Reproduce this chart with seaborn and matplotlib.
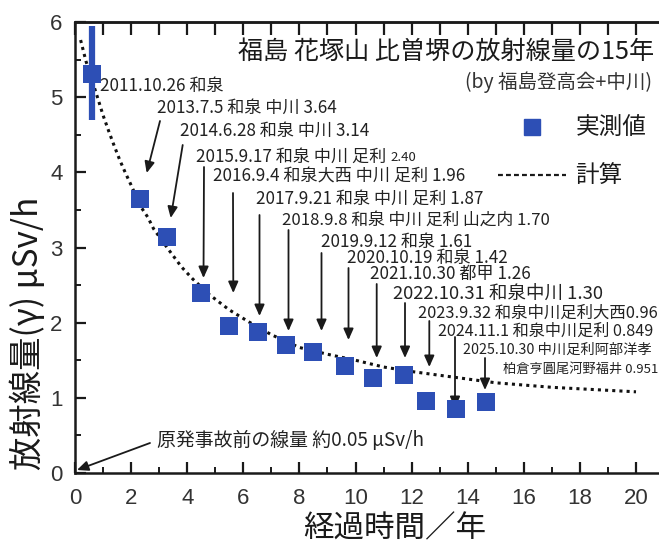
import numpy as np
import pandas as pd
import matplotlib
matplotlib.use("Agg")
import matplotlib.pyplot as plt
from matplotlib.lines import Line2D
import seaborn as sns

# 実測値 (経過年, μSv/h)
years = [0.60, 2.31, 3.27, 4.48, 5.48, 6.51, 7.51, 8.50, 9.61, 10.64, 11.72, 12.53, 13.60, 14.66]
dose = [5.31, 3.64, 3.14, 2.40, 1.96, 1.87, 1.70, 1.61, 1.42, 1.26, 1.30, 0.96, 0.849, 0.951]
err_lo = 4.70
err_hi = 5.95

# 計算 (点線)
calc_years = [0.2, 0.39, 0.8, 1.0, 1.2, 1.4, 1.6, 1.8, 2.0, 2.35, 2.6, 2.8, 3.3, 3.6, 3.8, 4.0, 4.2,
              4.8, 5.5, 6.2, 7.0, 8.0, 9.0, 10.0, 11.0, 12.0, 13.0, 14.0, 15.0, 16.0, 17.0, 18.0, 19.0, 20.0]
calc_dose = [5.76, 5.48, 5.00, 4.76, 4.55, 4.35, 4.16, 3.99, 3.83, 3.54, 3.40, 3.25, 2.99, 2.84, 2.74, 2.66, 2.58,
             2.37, 2.17, 2.01, 1.84, 1.67, 1.58, 1.50, 1.41, 1.35, 1.30, 1.25, 1.20, 1.17, 1.14, 1.12, 1.10, 1.08]

# 注記テキスト
notes = ["2011.10.26 和泉", "2013.7.5 和泉 中川 3.64", "2014.6.28 和泉 中川 3.14",
         "2015.9.17 和泉 中川 足利", "2016.9.4 和泉大西 中川 足利 1.96", "2017.9.21 和泉 中川 足利 1.87",
         "2018.9.8 和泉 中川 足利 山之内 1.70", "2019.9.12 和泉 1.61", "2020.10.19 和泉 1.42",
         "2021.10.30 都甲 1.26", "2022.10.31 和泉中川 1.30", "2023.9.32 和泉中川足利大西0.96",
         "2024.11.1 和泉中川足利 0.849", "2025.10.30 中川足利阿部洋孝", "柏倉亨圓尾河野福井 0.951",
         "原発事故前の線量 約0.05 μSv/h"]

# レイアウト (画像ピクセル: 左端x, 中心y, 文字サイズ)
note_pos = [(100, 86, 12.3), (157, 108, 12.3), (180, 131, 12.3), (196, 157, 12.3), (213, 177, 12.3),
            (256, 199, 12.3), (282, 220, 12.1), (321, 242, 12.3), (347, 258, 12.3), (370, 274, 12.3),
            (393, 294, 13.3), (418, 313, 11.8), (438, 331, 11.6), (463, 350, 10.3), (503, 369, 9.5),
            (157, 441, 13.6)]
# 矢印 (始点, 先端) 画像ピクセル
arrows = [((160, 121), (146.7, 173)), ((182.7, 145), (170.7, 218)), ((204, 167), (203.5, 278)),
          ((233, 193), (233.3, 293)), ((259.5, 215), (259.5, 316)), ((288.5, 230), (288.5, 331)),
          ((321.5, 253), (321.5, 331)), ((348.5, 268), (348.5, 340)), ((376.7, 284), (376.7, 358)),
          ((405, 303), (405, 358)), ((429.3, 321), (429.3, 367)), ((455, 337), (455, 408)),
          ((485, 358), (485, 390)), ((150, 443), (77, 470))]

W, H = 659, 547
blue = "#2d4fb5"
ink = "#1a1a1a"

sns.set_style("ticks")
plt.rcParams['font.family'] = ['Noto Sans CJK JP', 'DejaVu Sans']

fig = plt.figure(figsize=(W / 100, H / 100), dpi=100)
ax = fig.add_axes([75 / W, (H - 473) / H, 587 / W, 451 / H])

meas = pd.DataFrame({"years": years, "dose": dose})
calc = pd.DataFrame({"years": calc_years, "dose": calc_dose})

sns.lineplot(data=calc, x="years", y="dose", ax=ax, color="#111111", lw=2.2,
             linestyle=(0, (1, 1.35)), zorder=3)
ax.errorbar(years[0], dose[0], yerr=[[dose[0] - err_lo], [err_hi - dose[0]]], fmt="none",
            ecolor=blue, elinewidth=4.5, capsize=0, zorder=3.5)
sns.scatterplot(data=meas, x="years", y="dose", ax=ax, marker="s", s=185, color=blue,
                edgecolor=blue, linewidth=0, zorder=4)

ax.set_xlim(0, 587 / 28.05)
ax.set_ylim(0, 6)
ax.set_xticks(range(0, 21, 2))
ax.set_xticks(range(1, 21, 2), minor=True)
ax.set_yticks(range(0, 7))
ax.set_yticks(np.arange(0.5, 6, 1), minor=True)
ax.tick_params(which="major", direction="in", length=8, width=1.6, color=ink, labelsize=16,
               labelcolor="#333333", pad=9)
ax.tick_params(axis="x", which="major", pad=11)
ax.tick_params(which="minor", direction="in", length=4.5, width=1.4, color=ink)
for lab in ax.get_xticklabels() + ax.get_yticklabels():
    lab.set_family("Liberation Sans")
for sp in ax.spines.values():
    sp.set_linewidth(1.8)
    sp.set_color(ink)

sec = ax.secondary_xaxis("top")
sec.set_xticks(range(0, 21))
sec.tick_params(direction="in", length=9, width=1.6, color=ink, labeltop=False)
sec.spines["top"].set_linewidth(1.8)

ax.set_xlabel("経過時間／年", fontsize=22, color=ink)
ax.xaxis.set_label_coords((395 - 75) / 587, -0.09)
ax.set_ylabel("放射線量(γ) μSv/h", fontsize=24, color=ink)
ax.yaxis.set_label_coords(-0.05, 0.31)

fig.text(238 / W, 1 - 52 / H, "福島 花塚山 比曽堺の放射線量の15年", fontsize=18.1, va="center", color=ink)
fig.text(465 / W, 1 - 82 / H, "(by 福島登高会+中川)", fontsize=14, va="center", color="#333333")

handles = [Line2D([], [], marker="s", color=blue, ls="none", ms=11),
           Line2D([], [], color=ink, ls=(0, (2.2, 1.4)), lw=1.6)]
ax.legend(handles, ["実測値", "計算"], loc="upper left", bbox_to_anchor=(0.70, 0.815),
          frameon=False, fontsize=17, handlelength=2.9, handletextpad=0.4, labelspacing=1.05,
          borderpad=0, labelcolor=ink)

texts = []
for label, (x, y, fs) in zip(notes, note_pos):
    t = ax.annotate(label, xy=(x, H - y), xycoords="figure pixels", fontsize=fs,
                    va="center", ha="left", color="#222222")
    texts.append(t)
ax.annotate("2.40", xy=(1, 0.12), xycoords=texts[3], xytext=(3, 0), textcoords="offset points",
            fontsize=9.5, va="bottom", ha="left", color="#222222")

for (sx, sy), (tx, ty) in arrows:
    ax.annotate("", xy=(tx, H - ty), xycoords="figure pixels", xytext=(sx, H - sy),
                textcoords="figure pixels",
                arrowprops=dict(arrowstyle="-|>,head_length=0.45,head_width=0.2", color=ink,
                                lw=1.3, shrinkA=0, shrinkB=0, mutation_scale=15))

fig.savefig("out.png", dpi=100)
